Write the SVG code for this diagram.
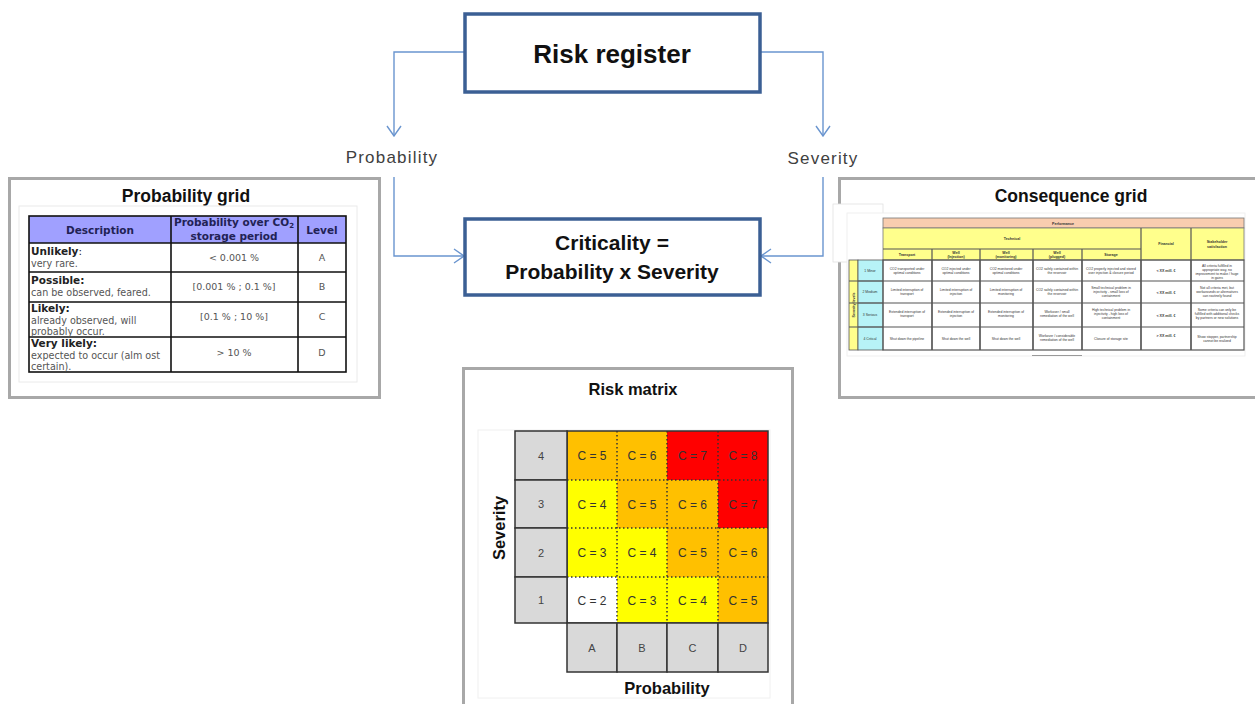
<svg xmlns="http://www.w3.org/2000/svg" width="1255" height="704" viewBox="0 0 1255 704">
<defs>
<marker id="arr" viewBox="0 0 12 16" refX="11" refY="8" markerWidth="12" markerHeight="16" markerUnits="userSpaceOnUse" orient="auto">
<path d="M1,1 L11,8 L1,15" fill="none" stroke="#6a95cf" stroke-width="1.4"/>
</marker>
</defs>
<style>
.box{fill:#fff;stroke:#3b5f94;stroke-width:3.5}
.conn{fill:none;stroke:#6a95cf;stroke-width:1.4}
.panel{fill:#fff;stroke:#a8a8a8;stroke-width:3}
.ttl{font-family:"Liberation Sans",Arial,sans-serif;font-weight:bold;fill:#111;text-anchor:middle}
.lbl{font-family:"Liberation Sans",Arial,sans-serif;font-size:17px;letter-spacing:1.2px;fill:#404040;text-anchor:middle}
.ph{font-family:"DejaVu Sans",Verdana,sans-serif;font-weight:bold;font-size:10.5px;fill:#222255;text-anchor:middle}
.pb{font-family:"DejaVu Sans",Verdana,sans-serif;font-weight:bold;font-size:10.5px;fill:#222}
.pr{font-family:"DejaVu Sans",Verdana,sans-serif;font-size:9.6px;fill:#555}
.pv{font-family:"DejaVu Sans",Verdana,sans-serif;font-size:9.5px;fill:#555;text-anchor:middle}
.tl{stroke:#111;stroke-width:1.6;fill:none}
.ct{font-family:"Liberation Sans",Arial,sans-serif;font-size:3.4px;fill:#333;text-anchor:middle}
.cb{font-family:"Liberation Sans",Arial,sans-serif;font-size:3.6px;font-weight:bold;fill:#333;text-anchor:middle}
.cl{stroke:#555;stroke-width:1.2;fill:none}
.mc{font-family:"Liberation Sans",Arial,sans-serif;font-size:12px;fill:#333;text-anchor:middle}
.mg{fill:#d9d9d9;stroke:#333;stroke-width:1.5}
.ms{font-family:"Liberation Sans",Arial,sans-serif;font-size:11px;fill:#444;text-anchor:middle}
.dot{stroke:#333;stroke-width:1.5;stroke-dasharray:1.5 2.5;fill:none}
</style>

<rect width="1255" height="704" fill="#fff"/>

<g id="connectors">
<path class="conn" d="M465,52 H394 V136" marker-end="url(#arr)"/>
<path class="conn" d="M394,177 V256 H464" marker-end="url(#arr)"/>
<path class="conn" d="M760,52 H823 V136" marker-end="url(#arr)"/>
<path class="conn" d="M823,177 V256 H761" marker-end="url(#arr)"/>
<text class="lbl" x="392" y="163">Probability</text>
<text class="lbl" x="823" y="164">Severity</text>
</g>

<g id="node-risk-register">
<rect class="box" x="465" y="14" width="295" height="78"/>
<text class="ttl" x="612" y="63" font-size="26">Risk register</text>
</g>

<g id="node-criticality">
<rect class="box" x="465" y="219" width="295" height="76"/>
<text class="ttl" x="612" y="250" font-size="21">Criticality =</text>
<text class="ttl" x="612" y="279" font-size="21">Probability x Severity</text>
</g>

<g id="node-probability-grid">
<rect class="panel" x="9.5" y="178.5" width="370" height="219"/>
<text class="ttl" x="186" y="202" font-size="17.5">Probability grid</text>
<rect x="19" y="206" width="338" height="176" fill="#fff" stroke="#eaeaea" stroke-width="1"/>
<rect x="29" y="216" width="317" height="27" fill="#a0a0ff"/>
<rect class="tl" x="29" y="216" width="317" height="156" stroke-width="2"/>
<path class="tl" d="M171,216 V372 M298,216 V372 M29,243 H346 M29,272 H346 M29,302 H346 M29,337 H346"/>
<text class="ph" x="100" y="234">Description</text>
<text class="ph" x="234" y="226">Probability over CO<tspan font-size="7" dy="2">2</tspan></text>
<text class="ph" x="234" y="240">storage period</text>
<text class="ph" x="322" y="234">Level</text>
<text class="pb" x="31" y="255">Unlikely<tspan font-weight="normal">:</tspan></text>
<text class="pr" x="31" y="267">very rare.</text>
<text class="pv" x="234" y="261">&lt; 0.001 %</text>
<text class="pv" x="322" y="261">A</text>
<text class="pb" x="31" y="284">Possible:</text>
<text class="pr" x="31" y="296">can be observed, feared.</text>
<text class="pv" x="234" y="290">[0.001 % ; 0.1 %]</text>
<text class="pv" x="322" y="290">B</text>
<text class="pb" x="31" y="312">Likely:</text>
<text class="pr" x="31" y="324">already observed, will</text>
<text class="pr" x="31" y="335">probably occur.</text>
<text class="pv" x="234" y="320">[0.1 % ; 10 %]</text>
<text class="pv" x="322" y="320">C</text>
<text class="pb" x="31" y="347">Very likely:</text>
<text class="pr" x="31" y="359">expected to occur (alm ost</text>
<text class="pr" x="31" y="370">certain).</text>
<text class="pv" x="234" y="356">&gt; 10 %</text>
<text class="pv" x="322" y="356">D</text>
</g>

<g id="node-consequence-grid">
<rect class="panel" x="839.5" y="178.5" width="420" height="219"/>
<rect x="833" y="204" width="50" height="58" fill="#fff" stroke="#e2e2e2" stroke-width="0.8"/>
<text class="ttl" x="1071" y="202" font-size="17.5">Consequence grid</text>
<rect x="847" y="213" width="398" height="143" fill="#fff" stroke="#ececec" stroke-width="0.8"/>
<line x1="1032" y1="355.5" x2="1082" y2="355.5" stroke="#999" stroke-width="1"/>
<rect x="883" y="218" width="361" height="10" fill="#f9cdaf" stroke="#777" stroke-width="0.8"/>
<rect x="883" y="228" width="361" height="32" fill="#ffff8c" stroke="#777" stroke-width="0.8"/>
<path class="cl" d="M883,249 H1141 M932,249 V350 M980,249 V350 M1033,249 V350 M1082,249 V350 M1141,228 V350 M1191,228 V350"/>
<rect x="849" y="260" width="9" height="90" fill="#ffff8c" stroke="#555" stroke-width="0.8"/>
<rect x="858" y="260" width="25" height="90" fill="#b7f3f7" stroke="#555" stroke-width="0.8"/>
<rect class="cl" x="883" y="260" width="361" height="90" fill="#fff"/>
<path class="cl" d="M932,260 V350 M980,260 V350 M1033,260 V350 M1082,260 V350 M1141,260 V350 M1191,260 V350 M849,281 H1244 M849,303 H1244 M849,327 H1244"/>
<path d="M858,281 H883 M858,303 H883 M858,327 H883" stroke="#555" stroke-width="0.8"/>
<text class="cb" x="1063" y="224.5">Performance</text>
<text class="cb" x="1012" y="240">Technical</text>
<text class="cb" x="1166" y="245">Financial</text>
<text class="cb" x="1217" y="243">Stakeholder</text>
<text class="cb" x="1217" y="247.5">satisfaction</text>
<text class="cb" x="907" y="256">Transport</text>
<text class="cb" x="956" y="253.5">Well</text>
<text class="cb" x="956" y="257.5">(Injection)</text>
<text class="cb" x="1006" y="253.5">Well</text>
<text class="cb" x="1006" y="257.5">(monitoring)</text>
<text class="cb" x="1057" y="253.5">Well</text>
<text class="cb" x="1057" y="257.5">(plugged)</text>
<text class="cb" x="1111" y="256">Storage</text>
<text class="cb" transform="translate(855,305) rotate(-90)" x="0" y="0">Severity levels</text>
<text class="ct" x="870" y="271.5">1 Minor</text>
<text class="ct" x="870" y="293">2 Medium</text>
<text class="ct" x="870" y="316">3 Serious</text>
<text class="ct" x="870" y="339.5">4 Critical</text>

<text class="ct" x="907" y="270">CO2 transported under</text><text class="ct" x="907" y="274">optimal conditions</text>
<text class="ct" x="956" y="270">CO2 injected under</text><text class="ct" x="956" y="274">optimal conditions</text>
<text class="ct" x="1006" y="270">CO2 monitored under</text><text class="ct" x="1006" y="274">optimal conditions</text>
<text class="ct" x="1057" y="270">CO2 safely contained within</text><text class="ct" x="1057" y="274">the reservoir</text>
<text class="ct" x="1111" y="270">CO2 properly injected and stored</text><text class="ct" x="1111" y="274">over injection &amp; closure period</text>
<text class="cb" x="1166" y="272">&lt; XX mill. €</text>
<text class="ct" x="1217" y="267">All criteria fulfilled in</text><text class="ct" x="1217" y="271">appropriate way, no</text><text class="ct" x="1217" y="275">improvement to make / huge</text><text class="ct" x="1217" y="279">in gains</text>

<text class="ct" x="907" y="291">Limited interruption of</text><text class="ct" x="907" y="295">transport</text>
<text class="ct" x="956" y="291">Limited interruption of</text><text class="ct" x="956" y="295">injection</text>
<text class="ct" x="1006" y="291">Limited interruption of</text><text class="ct" x="1006" y="295">monitoring</text>
<text class="ct" x="1057" y="291">CO2 safely contained within</text><text class="ct" x="1057" y="295">the reservoir</text>
<text class="ct" x="1111" y="289">Small technical problem in</text><text class="ct" x="1111" y="293">injectivity - small loss of</text><text class="ct" x="1111" y="297">containment</text>
<text class="cb" x="1166" y="293.5">&lt; XX mill. €</text>
<text class="ct" x="1217" y="289">Not all criteria met, but</text><text class="ct" x="1217" y="293">workarounds or alternatives</text><text class="ct" x="1217" y="297">can routinely found</text>

<text class="ct" x="907" y="313">Extended interruption of</text><text class="ct" x="907" y="317">transport</text>
<text class="ct" x="956" y="313">Extended interruption of</text><text class="ct" x="956" y="317">injection</text>
<text class="ct" x="1006" y="313">Extended interruption of</text><text class="ct" x="1006" y="317">monitoring</text>
<text class="ct" x="1057" y="313">Workover / small</text><text class="ct" x="1057" y="317">remediation of the well</text>
<text class="ct" x="1111" y="311">High technical problem in</text><text class="ct" x="1111" y="315">injectivity - high loss of</text><text class="ct" x="1111" y="319">containment</text>
<text class="cb" x="1166" y="316.5">&lt; XX mill. €</text>
<text class="ct" x="1217" y="311">Some criteria can only be</text><text class="ct" x="1217" y="315">fulfilled with additional checks</text><text class="ct" x="1217" y="319">by partners or new solutions</text>

<text class="ct" x="907" y="340">Shut down the pipeline</text>
<text class="ct" x="956" y="340">Shut down the well</text>
<text class="ct" x="1006" y="340">Shut down the well</text>
<text class="ct" x="1057" y="337">Workover / considerable</text><text class="ct" x="1057" y="341">remediation of the well</text>
<text class="ct" x="1111" y="340">Closure of storage site</text>
<text class="cb" x="1166" y="337">&gt; XX mill. €</text>
<text class="ct" x="1217" y="338">Show stopper, partnership</text><text class="ct" x="1217" y="342">cannot be realized</text>
</g>

<g id="node-risk-matrix">
<rect class="panel" x="463.5" y="368.5" width="329" height="345"/>
<text class="ttl" x="633" y="395" font-size="16.5">Risk matrix</text>
<rect x="478" y="430" width="292" height="268" fill="#fff" stroke="#f0f0f0" stroke-width="1"/>
<rect x="567" y="431" width="100" height="49" fill="#ffc000"/>
<rect x="667" y="431" width="101" height="49" fill="#ff0000"/>
<rect x="567" y="480" width="50" height="48" fill="#ffff00"/>
<rect x="617" y="480" width="101" height="48" fill="#ffc000"/>
<rect x="718" y="480" width="50" height="48" fill="#ff0000"/>
<rect x="567" y="528" width="100" height="49" fill="#ffff00"/>
<rect x="667" y="528" width="101" height="49" fill="#ffc000"/>
<rect x="567" y="577" width="50" height="46" fill="#ffffff"/>
<rect x="617" y="577" width="101" height="46" fill="#ffff00"/>
<rect x="718" y="577" width="50" height="46" fill="#ffc000"/>
<path class="dot" d="M617,431 V623 M667,431 V623 M718,431 V623 M567,480 H768 M567,528 H768 M567,577 H768"/>
<rect x="567" y="431" width="201" height="192" fill="none" stroke="#333" stroke-width="1.5"/>
<rect class="mg" x="515" y="431" width="52" height="49"/>
<rect class="mg" x="515" y="480" width="52" height="48"/>
<rect class="mg" x="515" y="528" width="52" height="49"/>
<rect class="mg" x="515" y="577" width="52" height="46"/>
<rect class="mg" x="567" y="623" width="50" height="49"/>
<rect class="mg" x="617" y="623" width="50" height="49"/>
<rect class="mg" x="667" y="623" width="51" height="49"/>
<rect class="mg" x="718" y="623" width="50" height="49"/>
<text class="ms" x="541" y="460">4</text>
<text class="ms" x="541" y="508">3</text>
<text class="ms" x="541" y="557">2</text>
<text class="ms" x="541" y="604">1</text>
<text class="ms" x="592" y="652">A</text>
<text class="ms" x="642" y="652">B</text>
<text class="ms" x="692.5" y="652">C</text>
<text class="ms" x="743" y="652">D</text>
<text class="mc" x="592" y="460">C = 5</text>
<text class="mc" x="642" y="460">C = 6</text>
<text class="mc" x="692.5" y="460">C = 7</text>
<text class="mc" x="743" y="460">C = 8</text>
<text class="mc" x="592" y="508.5">C = 4</text>
<text class="mc" x="642" y="508.5">C = 5</text>
<text class="mc" x="692.5" y="508.5">C = 6</text>
<text class="mc" x="743" y="508.5">C = 7</text>
<text class="mc" x="592" y="557">C = 3</text>
<text class="mc" x="642" y="557">C = 4</text>
<text class="mc" x="692.5" y="557">C = 5</text>
<text class="mc" x="743" y="557">C = 6</text>
<text class="mc" x="592" y="604.5">C = 2</text>
<text class="mc" x="642" y="604.5">C = 3</text>
<text class="mc" x="692.5" y="604.5">C = 4</text>
<text class="mc" x="743" y="604.5">C = 5</text>
<text class="ttl" x="667" y="694" font-size="16.5">Probability</text>
<text class="ttl" transform="translate(505,528) rotate(-90)" x="0" y="0" font-size="16.5">Severity</text>
</g>
</svg>
